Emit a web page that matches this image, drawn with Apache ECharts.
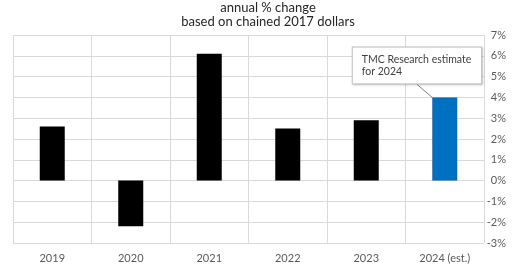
<!DOCTYPE html>
<html><head><meta charset="utf-8">
<script src="https://cdn.jsdelivr.net/npm/echarts@6/dist/echarts.min.js"></script>
<style>html,body{margin:0;padding:0;background:#fff}#c{width:520px;height:272px}</style>
</head><body><div id="c"></div>
<script>
var categories = ['2019','2020','2021','2022','2023','2024 (est.)'];
var values = [2.6, -2.2, 6.1, 2.5, 2.9, 4.0];
var yTicks = ['-3%','-2%','-1%','0%','1%','2%','3%','4%','5%','6%','7%'];
var titleLines = ['annual % change', 'based on chained 2017 dollars'];
var calloutText = ['TMC Research estimate', 'for 2024'];

var font = 'Lato';
var chart = echarts.init(document.getElementById('c'), null, {renderer:'canvas'});
var data = values.map(function(v, i){
  var item = {value: v};
  if (i === values.length - 1) {
    item.itemStyle = {color: '#0070C0', borderColor: '#1f5fa0', borderWidth: 0.5};
    item.label = {
      show: true, position: 'top', distance: 4,
      formatter: calloutText.join('\n'),
      fontFamily: font, fontSize: 10.5, color: '#404040', lineHeight: 12,
      align: 'left', backgroundColor: '#fff', borderColor: '#c0c0c0', borderWidth: 1,
      padding: [6, 10, 6, 9],
      shadowColor: 'rgba(0,0,0,0.15)', shadowBlur: 2, shadowOffsetX: 1, shadowOffsetY: 1
    };
    item.labelLine = {show: true, lineStyle: {color: '#7f7f7f', width: 1}};
  }
  return item;
});
chart.setOption({
  animation: false,
  title: {
    text: titleLines.join('\n'), left: 263, textAlign: 'center', top: -4,
    textStyle: {fontFamily: font, fontSize: 13, fontWeight: 'normal', color: '#262626', lineHeight: 14}
  },
  grid: {left: 13, right: 36, top: 35, bottom: 29},
  xAxis: {
    type: 'category', data: categories, boundaryGap: true,
    axisLine: {show: false}, axisTick: {show: false},
    axisLabel: {fontFamily: font, fontSize: 11, color: '#595959', margin: 10},
    splitLine: {show: true, lineStyle: {color: '#d9d9d9', width: 1}}
  },
  yAxis: {
    type: 'value', position: 'right', min: -3, max: 7, interval: 1,
    axisLine: {show: false}, axisTick: {show: false},
    axisLabel: {fontFamily: font, fontSize: 11, color: '#595959', align: 'right', margin: 22,
      formatter: function(v){ return yTicks[Math.round(v) + 3]; }},
    splitLine: {show: true, lineStyle: {color: '#d9d9d9', width: 1}}
  },
  series: [{
    type: 'bar', data: data, barWidth: 25,
    itemStyle: {color: '#000'},
    labelLayout: {dx: -92, dy: -10}
  }]
});
</script></body></html>
